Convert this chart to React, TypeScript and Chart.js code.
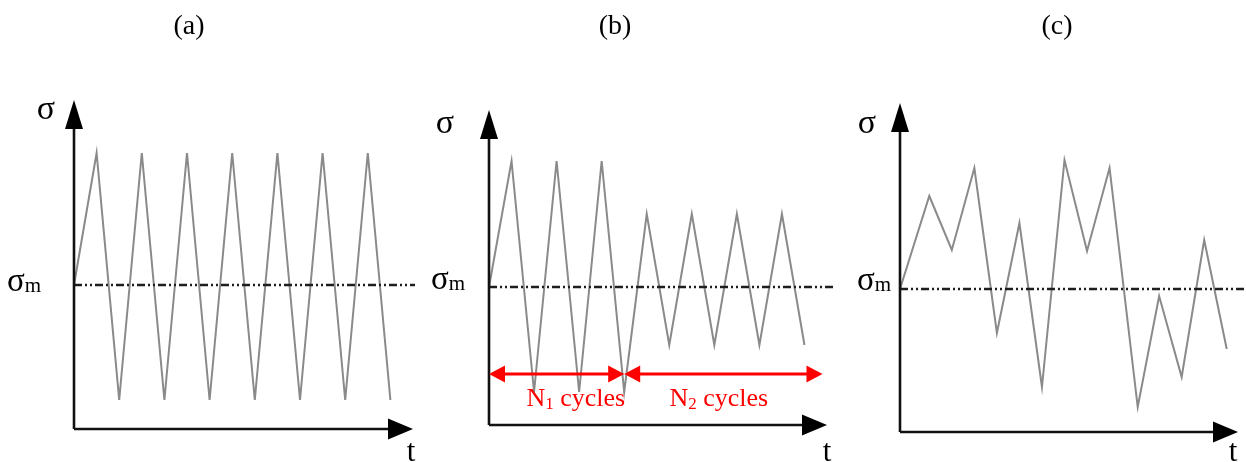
import React, { useEffect, useRef } from "react";
import { Chart, registerables } from "chart.js";

Chart.register(...registerables);

// ---------- data ----------
const panelTitles = ["(a)", "(b)", "(c)"];

// (a) constant amplitude loading
const timeA = [0, 1, 2, 3, 4, 5, 6, 7, 8, 9, 10, 11, 12, 13, 14];
const stressA = [0, 1.32, -1.15, 1.32, -1.15, 1.32, -1.15, 1.32, -1.15, 1.32, -1.15, 1.32, -1.15, 1.32, -1.15];

// (b) block loading: N1 large cycles then N2 smaller cycles
const timeB = [0, 1, 2, 3, 4, 5, 6, 7, 8, 9, 10, 11, 12, 13, 14];
const stressB = [0, 1.26, -1.05, 1.26, -1.05, 1.26, -1.05, 0.73, -0.58, 0.73, -0.58, 0.73, -0.58, 0.73, -0.58];

// (c) variable amplitude loading
const timeC = [0, 1.3, 2.3, 3.3, 4.3, 5.3, 6.3, 7.3, 8.3, 9.3, 10.55, 11.5, 12.5, 13.5, 14.5];
const stressC = [0, 0.93, 0.39, 1.21, -0.44, 0.66, -0.98, 1.29, 0.38, 1.21, -1.18, -0.07, -0.88, 0.49, -0.6];

const meanStress = 0;
const timeAxisMax = 15;

// block spans in panel (b)
const spanN1 = [0, 6];
const spanN2 = [6, 14.8];
const spanLevel = -0.87;
const spanLabelTimes = [3.85, 10.2];
const spanLabels = [
  { main: "N", sub: "1", rest: " cycles" },
  { main: "N", sub: "2", rest: " cycles" },
];

// ---------- layout ----------
const FONT = '"Liberation Serif", "Times New Roman", serif';

type PanelCfg = {
  left: number;
  width: number;
  pad: { left: number; right: number; top: number; bottom: number };
  yMin: number;
  yMax: number;
  meanEnd: number;
  titleX: number;
  sigmaX: number;
  sigmaY: number;
  sigmaMX: number;
  sigmaMY: number;
  tX: number;
  time: number[];
  stress: number[];
  blocks: boolean;
  title: string;
};

const panels: PanelCfg[] = [
  {
    left: 0, width: 420,
    pad: { left: 74, right: 7, top: 100, bottom: 33 },
    yMin: -1.44, yMax: 1.85, meanEnd: 15.09,
    titleX: 189, sigmaX: 46, sigmaY: 119, sigmaMX: 7, sigmaMY: 291, tX: 411,
    time: timeA, stress: stressA, blocks: false, title: panelTitles[0],
  },
  {
    left: 420, width: 420,
    pad: { left: 69, right: 13, top: 110, bottom: 37 },
    yMin: -1.38, yMax: 1.77, meanEnd: 15.27,
    titleX: 195, sigmaX: 25, sigmaY: 133, sigmaMX: 11, sigmaMY: 289, tX: 407,
    time: timeB, stress: stressB, blocks: true, title: panelTitles[1],
  },
  {
    left: 840, width: 406,
    pad: { left: 60, right: 8, top: 103, bottom: 30 },
    yMin: -1.43, yMax: 1.86, meanEnd: 15.3,
    titleX: 217, sigmaX: 27, sigmaY: 133, sigmaMX: 17, sigmaMY: 290, tX: 393,
    time: timeC, stress: stressC, blocks: false, title: panelTitles[2],
  },
];

function drawSubText(
  ctx: CanvasRenderingContext2D,
  x: number, y: number,
  main: string, sub: string, rest: string,
  mainSize: number, subSize: number, drop: number,
  align: "left" | "center"
) {
  ctx.textBaseline = "alphabetic";
  ctx.textAlign = "left";
  ctx.font = `${mainSize}px ${FONT}`;
  const w1 = ctx.measureText(main).width;
  const w3 = ctx.measureText(rest).width;
  ctx.font = `${subSize}px ${FONT}`;
  const w2 = ctx.measureText(sub).width;
  let sx = align === "center" ? x - (w1 + w2 + w3) / 2 : x;
  ctx.font = `${mainSize}px ${FONT}`;
  ctx.fillText(main, sx, y);
  sx += w1;
  ctx.font = `${subSize}px ${FONT}`;
  ctx.fillText(sub, sx, y + drop);
  sx += w2;
  ctx.font = `${mainSize}px ${FONT}`;
  if (rest) ctx.fillText(rest, sx, y);
}

function makeOverlay(cfg: PanelCfg) {
  return {
    id: "overlay",
    afterDraw(chart: any) {
      const ctx: CanvasRenderingContext2D = chart.ctx;
      const xs = chart.scales.x;
      const ys = chart.scales.y;
      const x0 = xs.getPixelForValue(0);
      const xEnd = xs.getPixelForValue(timeAxisMax);
      const yBase = ys.getPixelForValue(cfg.yMin);
      const yTop = ys.getPixelForValue(cfg.yMax);
      ctx.save();
      // axes
      ctx.strokeStyle = "#111";
      ctx.fillStyle = "#000";
      ctx.lineWidth = 2.6;
      ctx.beginPath();
      ctx.moveTo(x0, yBase);
      ctx.lineTo(x0, yTop + 20);
      ctx.moveTo(x0, yBase);
      ctx.lineTo(xEnd - 15, yBase);
      ctx.stroke();
      // y arrowhead
      ctx.beginPath();
      ctx.moveTo(x0, yTop);
      ctx.lineTo(x0 + 9, yTop + 29);
      ctx.lineTo(x0 - 9, yTop + 29);
      ctx.closePath();
      ctx.fill();
      // x arrowhead
      ctx.beginPath();
      ctx.moveTo(xEnd, yBase);
      ctx.lineTo(xEnd - 25, yBase - 10.5);
      ctx.lineTo(xEnd - 25, yBase + 10.5);
      ctx.closePath();
      ctx.fill();

      // block arrows
      if (cfg.blocks) {
        ctx.fillStyle = "#ff0000";
        const yl = ys.getPixelForValue(spanLevel);
        const head = (tip: number, dir: number) => {
          ctx.beginPath();
          ctx.moveTo(tip, yl);
          ctx.lineTo(tip - dir * 16, yl - 8.5);
          ctx.lineTo(tip - dir * 16, yl + 8.5);
          ctx.closePath();
          ctx.fill();
        };
        [spanN1, spanN2].forEach((sp) => {
          head(xs.getPixelForValue(sp[0]), -1);
          head(xs.getPixelForValue(sp[1]), 1);
        });
        spanLabels.forEach((lb, i) => {
          const cx = xs.getPixelForValue(spanLabelTimes[i]);
          drawSubText(ctx, cx, yl + 32, lb.main, lb.sub, lb.rest, 26, 17, 3, "center");
        });
      }

      // texts
      ctx.fillStyle = "#000";
      ctx.textBaseline = "alphabetic";
      ctx.textAlign = "center";
      ctx.font = `28px ${FONT}`;
      ctx.fillText(cfg.title, cfg.titleX, 34);
      ctx.font = `34px ${FONT}`;
      ctx.fillText("σ", cfg.sigmaX, cfg.sigmaY);
      ctx.font = `31px ${FONT}`;
      ctx.fillText("t", cfg.tX, 461);
      drawSubText(ctx, cfg.sigmaMX, cfg.sigmaMY, "σ", "m", "", 33, 21, 1, "left");
      ctx.restore();
    },
  };
}

function Panel({ cfg }: { cfg: PanelCfg }) {
  const ref = useRef<HTMLCanvasElement | null>(null);
  useEffect(() => {
    if (!ref.current) return;
    const datasets: any[] = [
      {
        label: "mean",
        data: [
          { x: 0, y: meanStress },
          { x: cfg.meanEnd, y: meanStress },
        ],
        borderColor: "#1e1e1e",
        borderWidth: 2.4,
        borderDash: [8, 3, 2, 3, 2, 3],
        pointRadius: 0,
        clip: false,
      },
    ];
    if (cfg.blocks) {
      [spanN1, spanN2].forEach((sp, i) => {
        datasets.push({
          label: "block" + i,
          data: [
            { x: sp[0] + 0.3, y: spanLevel },
            { x: sp[1] - 0.3, y: spanLevel },
          ],
          borderColor: "#ff0000",
          borderWidth: 3,
          pointRadius: 0,
          clip: false,
        });
      });
    }
    datasets.push({
      label: "stress",
      data: cfg.time.map((t, i) => ({ x: t, y: cfg.stress[i] })),
      borderColor: "#8a8a8a",
      borderWidth: 2,
      pointRadius: 0,
      tension: 0,
      clip: false,
    });
    const chart = new Chart(ref.current, {
      type: "line",
      data: { datasets },
      options: {
        responsive: false,
        animation: false,
        layout: { padding: cfg.pad },
        scales: {
          x: { type: "linear", min: 0, max: timeAxisMax, display: false },
          y: { type: "linear", min: cfg.yMin, max: cfg.yMax, display: false },
        },
        plugins: {
          legend: { display: false },
          tooltip: { enabled: false },
          title: { display: false },
        },
        elements: { line: { borderJoinStyle: "miter" } },
      },
      plugins: [makeOverlay(cfg)],
    } as any);
    return () => chart.destroy();
  }, [cfg]);
  return (
    <canvas
      ref={ref}
      width={cfg.width}
      height={462}
      style={{ position: "absolute", left: cfg.left, top: 0, width: cfg.width, height: 462 }}
    />
  );
}

export default function App() {
  return (
    <div style={{ position: "absolute", left: 0, top: 0, width: 1246, height: 462, background: "#fff" }}>
      {panels.map((p, i) => (
        <Panel key={i} cfg={p} />
      ))}
    </div>
  );
}
